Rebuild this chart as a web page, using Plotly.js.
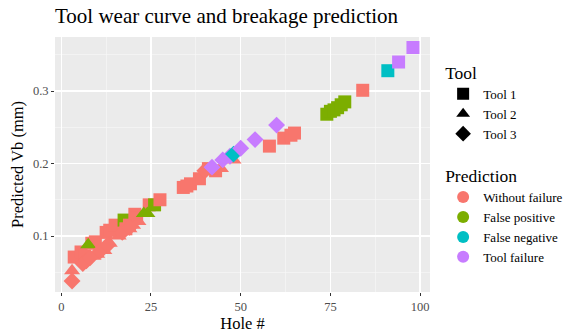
<!DOCTYPE html>
<html><head><meta charset="utf-8">
<script src="https://cdn.plot.ly/plotly-3.0.1.min.js"></script>
<style>html,body{margin:0;padding:0;background:#fff}</style>
</head><body><div id="plot" style="width:564px;height:333px"></div>
<script>
// Tool 1 (squares)
const t1Hole = [3.6, 5.5, 6.5, 8.5, 9.5, 12.5, 13.5, 15, 17.5, 18, 19, 20.5, 21, 24.5, 26, 27.5, 34, 35, 36, 38.5, 41, 43, 58, 62, 64, 65, 74, 75, 76, 77, 78, 79, 84, 91, 94, 98];
const t1Vb   = [0.071, 0.078, 0.072, 0.090, 0.092, 0.105, 0.108, 0.115, 0.122, 0.110, 0.115, 0.130, 0.125, 0.143, 0.143, 0.150, 0.167, 0.169, 0.172, 0.179, 0.193, 0.190, 0.224, 0.235, 0.239, 0.242, 0.268, 0.272, 0.274, 0.277, 0.281, 0.285, 0.301, 0.328, 0.340, 0.360];
const t1Pred = ["Without failure","Without failure","Without failure","Without failure","Without failure","Without failure","Without failure","Without failure","False positive","Without failure","Without failure","Without failure","Without failure","Without failure","False positive","Without failure","Without failure","Without failure","Without failure","Without failure","Without failure","Without failure","Without failure","Without failure","Without failure","Without failure","False positive","False positive","False positive","False positive","False positive","False positive","Without failure","False negative","Tool failure","Tool failure"];
// Tool 2 (triangles)
const t2Hole = [3, 7.5, 9, 10, 12, 13.5, 16, 19, 20, 21.5, 23, 24, 42, 44.5, 48];
const t2Vb   = [0.052, 0.088, 0.072, 0.075, 0.080, 0.090, 0.100, 0.110, 0.115, 0.120, 0.131, 0.131, 0.190, 0.193, 0.205];
const t2Pred = ["Without failure","False positive","Without failure","Without failure","Without failure","Without failure","Without failure","Without failure","Without failure","Without failure","False positive","False positive","Without failure","Without failure","Without failure"];
// Tool 3 (diamonds)
const t3Hole = [3, 6, 7, 8, 11, 13, 17, 19, 40, 42, 45, 47, 48, 50, 54, 60];
const t3Vb   = [0.038, 0.062, 0.066, 0.070, 0.080, 0.088, 0.105, 0.112, 0.190, 0.195, 0.205, 0.210, 0.213, 0.221, 0.233, 0.253];
const t3Pred = ["Without failure","Without failure","Without failure","Without failure","Without failure","Without failure","Without failure","Without failure","Without failure","Tool failure","Tool failure","Tool failure","False negative","Tool failure","Tool failure","Tool failure"];

const toolNames = ["Tool 1","Tool 2","Tool 3"];
const predNames = ["Without failure","False positive","False negative","Tool failure"];
const predColors = {"Without failure":"#F8766D","False positive":"#7CAE00","False negative":"#00BFC4","Tool failure":"#C77CFF"};
const toolSymbols = ["square","triangle-up","diamond"];

const tools = [[t1Hole,t1Vb,t1Pred],[t2Hole,t2Vb,t2Pred],[t3Hole,t3Vb,t3Pred]];
const traces = [];
tools.forEach((t,i)=>{
  traces.push({type:'scatter',mode:'markers',x:t[0],y:t[1],showlegend:false,hoverinfo:'skip',
    marker:{symbol:toolSymbols[i],size:i===1?14:13,color:t[2].map(p=>predColors[p]),line:{width:0}}});
});
toolNames.forEach((n,i)=>{
  traces.push({type:'scatter',mode:'markers',x:[null],y:[null],name:n,legend:'legend',
    marker:{symbol:toolSymbols[i],size:12,color:'#000'}});
});
predNames.forEach(n=>{
  traces.push({type:'scatter',mode:'markers',x:[null],y:[null],name:n,legend:'legend2',
    marker:{symbol:'circle',size:13,color:predColors[n]}});
});

const serif = "Liberation Serif";
const layout = {
  width:564,height:333,
  margin:{l:55,r:134,t:37,b:41,autoexpand:false},
  paper_bgcolor:'#ffffff',plot_bgcolor:'#EBEBEB',
  font:{family:serif,color:'#000',size:12},
  title:{text:'Tool wear curve and breakage prediction',x:0,xref:'paper',xanchor:'left',y:0.975,yanchor:'top',
    font:{family:serif,size:21,color:'#000'}},
  xaxis:{range:[-1.75,102.75],tickvals:[0,25,50,75,100],
    showline:false, zeroline:false, gridcolor:'#ffffff', gridwidth:1.3,
    ticks:'outside', ticklen:3, tickcolor:'#333333', tickwidth:1,
    tickfont:{family:serif,size:12.5,color:'#4d4d4d'},
    minor:{showgrid:true,gridcolor:'#f6f6f6',gridwidth:0.7,tickvals:[12.5,37.5,62.5,87.5],ticks:''},
    title:{text:'Hole #',font:{family:serif,size:16.5,color:'#000'},standoff:3}},
  yaxis:{range:[0.0228,0.3745],tickvals:[0.1,0.2,0.3],ticktext:['0.1','0.2','0.3'],
    showline:false, zeroline:false, gridcolor:'#ffffff', gridwidth:1.3,
    ticks:'outside', ticklen:3, tickcolor:'#333333', tickwidth:1,
    tickfont:{family:serif,size:12.5,color:'#4d4d4d'},
    minor:{showgrid:true,gridcolor:'#f6f6f6',gridwidth:0.7,tickvals:[0.05,0.15,0.25,0.35],ticks:''},
    title:{text:'Predicted Vb (mm)',font:{family:serif,size:16.5,color:'#000'},standoff:5}},
  legend:{x:1.035,xanchor:'left',y:0.925,yanchor:'top',bgcolor:'rgba(0,0,0,0)',
    title:{text:'Tool',font:{family:serif,size:17.5,color:'#000'}},font:{family:serif,size:13,color:'#000'},tracegroupgap:0,itemsizing:'constant'},
  legend2:{x:1.035,xanchor:'left',y:0.52,yanchor:'top',bgcolor:'rgba(0,0,0,0)',
    title:{text:'Prediction',font:{family:serif,size:17.5,color:'#000'}},font:{family:serif,size:13,color:'#000'},tracegroupgap:0,itemsizing:'constant'}
};
Plotly.newPlot('plot',traces,layout,{displayModeBar:false,staticPlot:true});
</script></body></html>
